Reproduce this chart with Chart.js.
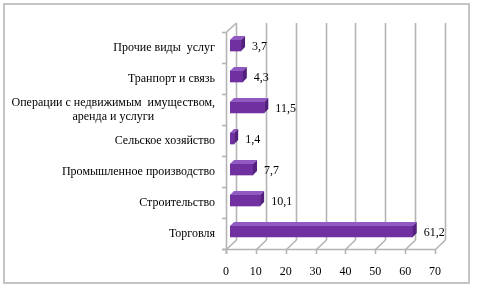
<!DOCTYPE html>
<html>
<head>
<meta charset="utf-8">
<script src="https://cdn.jsdelivr.net/npm/chart.js@4.4.1/dist/chart.umd.min.js"></script>
<style>
  body { margin: 0; background: #fff; }
  #wrap { position: relative; width: 477px; height: 290px; }
  #frame { position: absolute; left: 3px; top: 3px; width: 467px; height: 281px;
           box-sizing: border-box; border: 2px solid #c4c4c4; }
  canvas { position: absolute; left: 0; top: 0; }
</style>
</head>
<body>
<div id="wrap">
  <div id="frame"></div>
  <canvas id="sectorChart" width="477" height="290"></canvas>
</div>
<script>
// sectors, top to bottom as in the picture
const categories = [
  'Прочие виды  услуг',
  'Транпорт и связь',
  ['Операции с недвижимым  имуществом,', 'аренда и услуги'],
  'Сельское хозяйство',
  'Промышленное производство',
  'Строительство',
  'Торговля'
];
const shares = [3.7, 4.3, 11.5, 1.4, 7.7, 10.1, 61.2];
const xTicks = [0, 10, 20, 30, 40, 50, 60, 70];

const FONT = { family: '"Liberation Serif", "Times New Roman", serif', size: 12 };
const DX = 10, DY = -9;        // depth of the 3d box (back wall offset)
const BX = 4, BY = -2, BD = 4; // bar shift inside the box and bar depth
const GRID = '#b4b4b4';

function line(ctx, x1, y1, x2, y2) {
  ctx.beginPath();
  ctx.moveTo(x1, y1);
  ctx.lineTo(x2, y2);
  ctx.stroke();
}

// walls, floor and axis lines of the 3d box
const box3d = {
  id: 'box3d',
  beforeDatasetsDraw(chart) {
    const { ctx, chartArea: a, scales: { x, y } } = chart;
    ctx.save();
    ctx.strokeStyle = GRID;
    ctx.lineWidth = 1.6;
    xTicks.forEach(v => {
      const px = Math.round(x.getPixelForValue(v)) + 0.5;
      line(ctx, px + DX, a.top + DY, px + DX, a.bottom + DY); // back wall
      line(ctx, px, a.bottom + 0.5, px + DX, a.bottom + DY);   // floor
      line(ctx, px, a.bottom, px, a.bottom + 5);               // tick
    });
    const lx = Math.round(a.left) + 0.5;
    line(ctx, lx, a.top, lx, a.bottom + 5);
    line(ctx, lx, a.top, lx + DX, a.top + DY);
    line(ctx, a.left - 4, Math.round(a.bottom) + 0.5, x.getPixelForValue(70), Math.round(a.bottom) + 0.5);
    for (let i = 0; i <= categories.length; i++) {
      const py = Math.round(a.top + (a.bottom - a.top) * i / categories.length) + 0.5;
      line(ctx, a.left - 4, py, a.left, py);
    }
    ctx.restore();

    // bars are drawn a bit inside the box
    ctx.save();
    ctx.translate(BX, BY);
  },
  afterDatasetsDraw(chart) {
    const { ctx } = chart;
    chart.getDatasetMeta(0).data.forEach((bar, i) => {
      const top = bar.y - bar.height / 2, bottom = bar.y + bar.height / 2;
      // top face
      ctx.fillStyle = '#9159c2';
      ctx.beginPath();
      ctx.moveTo(bar.base, top);
      ctx.lineTo(bar.base + BD, top - BD);
      ctx.lineTo(bar.x + BD, top - BD);
      ctx.lineTo(bar.x, top);
      ctx.closePath();
      ctx.fill();
      // side face
      ctx.fillStyle = '#54207f';
      ctx.beginPath();
      ctx.moveTo(bar.x, top);
      ctx.lineTo(bar.x + BD, top - BD);
      ctx.lineTo(bar.x + BD, bottom - BD);
      ctx.lineTo(bar.x, bottom);
      ctx.closePath();
      ctx.fill();
      // value label
      ctx.fillStyle = '#000';
      ctx.font = FONT.size + 'px ' + FONT.family;
      ctx.textAlign = 'left';
      ctx.textBaseline = 'middle';
      ctx.fillText(shares[i].toFixed(1).replace('.', ','), bar.x + 11, bar.y + 1);
    });
    ctx.restore();
  },
  afterDraw(chart) {
    // category labels, multi-line one centred like in the picture
    const { ctx, chartArea: a, scales: { y } } = chart;
    ctx.save();
    ctx.fillStyle = '#000';
    ctx.font = FONT.size + 'px ' + FONT.family;
    ctx.textAlign = 'center';
    ctx.textBaseline = 'middle';
    const right = a.left - 11;
    categories.forEach((c, i) => {
      const lines = Array.isArray(c) ? c : [c];
      const w = Math.max(...lines.map(s => ctx.measureText(s).width));
      const cy = y.getPixelForValue(i) - (lines.length - 1) * 7;
      lines.forEach((s, k) => ctx.fillText(s, right - w / 2, cy + k * 14));
    });
    ctx.restore();
  }
};

new Chart(document.getElementById('sectorChart'), {
  type: 'bar',
  data: {
    labels: categories,
    datasets: [{
      data: shares,
      backgroundColor: '#7030a0',
      barThickness: 11
    }]
  },
  options: {
    indexAxis: 'y',
    responsive: false,
    animation: false,
    events: [],
    layout: { padding: { left: 0, top: 32, right: 42, bottom: 0 } },
    plugins: { legend: { display: false }, tooltip: { enabled: false } },
    scales: {
      y: {
        grid: { display: false },
        border: { display: false },
        ticks: { display: false },
        afterFit: s => { s.width = 226; }
      },
      x: {
        min: xTicks[0],
        max: xTicks[xTicks.length - 1],
        grid: { display: false },
        border: { display: false },
        ticks: { stepSize: 10, color: '#000', font: FONT, padding: 8 },
        afterFit: s => { s.height = 41; }
      }
    }
  },
  plugins: [box3d]
});
</script>
</body>
</html>
